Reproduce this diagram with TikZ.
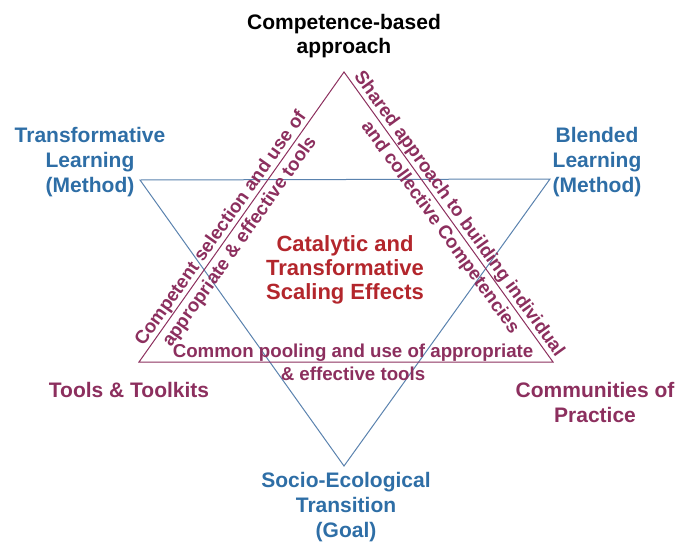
\documentclass[tikz,border=0pt]{standalone}
\usepackage{fontspec}
\setmainfont{Liberation Sans}
\usetikzlibrary{calc}
\definecolor{maroon}{HTML}{8C2F5E}
\definecolor{bluetxt}{HTML}{2E6EA6}
\definecolor{blueline}{HTML}{5A82AE}
\definecolor{redtxt}{HTML}{B3262C}
\tikzset{
  lbl/.style={font=\fontsize{21}{25}\selectfont\bfseries, align=center, inner sep=0pt},
  edgetxt/.style={font=\fontsize{18.7}{23}\selectfont\bfseries, inner sep=0pt, anchor=base, text=maroon},
  tri/.style={line width=1pt, line join=miter}
}
\begin{document}
\begin{tikzpicture}[x=1pt,y=-1pt]
\useasboundingbox (0,0) rectangle (684,543);
% up triangle (maroon)
\coordinate (A) at (344,72);
\coordinate (B) at (139,362);
\coordinate (C) at (553,362);
% down triangle (blue)
\coordinate (D) at (140,180);
\coordinate (E) at (550,179);
\coordinate (F) at (344,466);
\draw[tri, blueline] (D) -- (E) -- (F) -- cycle;
\draw[tri, maroon] (A) -- (B) -- (C) -- cycle;
% labels
\node[lbl, text=black] (cba) at (344,36.5) {Competence-based\\[-1pt]approach};
\node[lbl, text=bluetxt] (tl) at (90,162) {Transformative\\Learning\\(Method)};
\node[lbl, text=bluetxt] (bl) at (597,162) {Blended\\Learning\\(Method)};
\node[lbl, text=maroon] (tt) at (129,390) {Tools \& Toolkits};
\node[lbl, text=maroon] (cop) at (595,402) {Communities of\\Practice};
\node[lbl, text=bluetxt] (set) at (346,507) {Socio-Ecological\\Transition\\(Goal)};
\node[font=\fontsize{22}{24}\selectfont\bfseries, align=center, inner sep=0pt, text=redtxt] (cat) at (345,270) {Catalytic and\\Transformative\\Scaling Effects};
% edge anchor points
\coordinate (P) at ($(B)!0.44!(A)$);
\coordinate (Q) at ($(A)!0.51!(C)$);
\coordinate (R) at (353,362);
% edge texts
\node[edgetxt, rotate=54.74] (lt1) at ($(P)!5pt!90:(A)$) {Competent selection and use of};
\node[edgetxt, rotate=54.74] (lt2) at ($(P)!18pt!-90:(A)$) {appropriate \& effective tools};
\node[edgetxt, rotate=-54.22] (rt1) at ($(Q)!5pt!90:(C)$) {Shared approach to building individual};
\node[edgetxt, rotate=-54.22] (rt2) at ($(Q)!18pt!-90:(C)$) {and collective Competencies};
\node[edgetxt] (bt1) at ($(R)!5pt!90:(C)$) {Common pooling and use of appropriate};
\node[edgetxt] (bt2) at ($(R)!18pt!-90:(C)$) {\& effective tools};
\end{tikzpicture}
\end{document}
